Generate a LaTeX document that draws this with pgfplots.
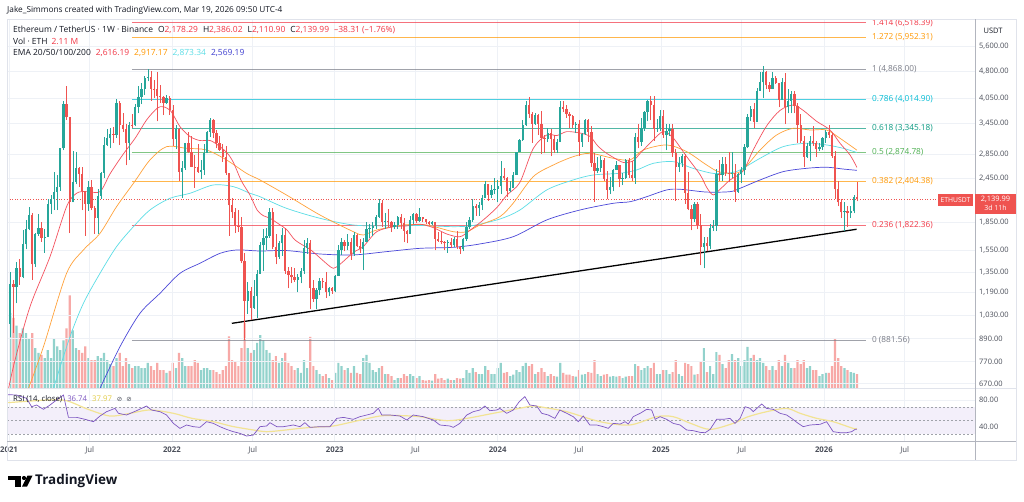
\documentclass[border=0pt]{standalone}
\usepackage{pgfplots}
\pgfplotsset{compat=1.18}
\usepackage{pgfplotstable}
\usepackage{fontspec}
\setmainfont{Open Sans}
\newfontfamily\dejavu{DejaVu Sans}
\newcommand{\fs}[1]{\fontsize{#1}{#1}\selectfont}

\definecolor{upc}{HTML}{26A69A}
\definecolor{dnc}{HTML}{EF5350}
\definecolor{upv}{HTML}{92D2CC}
\definecolor{dnv}{HTML}{F7A9A7}
\definecolor{ema20}{HTML}{F4515E}
\definecolor{ema50}{HTML}{FFA23A}
\definecolor{ema100}{HTML}{5CDDE6}
\definecolor{ema200}{HTML}{4A47D8}
\definecolor{rsic}{HTML}{7E57C2}
\definecolor{rsima}{HTML}{F2E394}
\definecolor{rsiband}{HTML}{F3EFFA}
\definecolor{rsiylab}{HTML}{E3CC45}
\definecolor{gridc}{HTML}{EEF1F6}
\definecolor{txt}{HTML}{131722}
\definecolor{axc}{HTML}{4A4E59}
\definecolor{framec}{HTML}{E0E3EB}
\definecolor{sepc}{HTML}{B2B5BE}
\definecolor{fibred}{HTML}{F23645}
\definecolor{fiborange}{HTML}{FF9800}
\definecolor{fibgray}{HTML}{787B86}
\definecolor{fibcyan}{HTML}{00BCD4}
\definecolor{fibteal}{HTML}{089981}
\definecolor{fibgreen}{HTML}{4CAF50}
\definecolor{emablue}{HTML}{3F3FD0}

% weekly candles, t = weeks since 4 Jan 2021; v = volume (M ETH)
\pgfplotstableread{
t o h l c v
0 975 1350 900 1255 11.3
2 1230 1440 1110 1390 9.4
4 1310 1760 1300 1610 9.0
5 1610 1875 1560 1780 8.3
6 1780 2040 1760 1935 7.5
8 1420 1730 1400 1720 6.0
9 1720 1945 1700 1790 5.3
11 1680 1770 1530 1690 4.5
12 1690 2150 1690 2080 5.7
13 2080 2200 1950 2140 4.5
14 2140 2550 2000 2240 7.5
15 2240 2500 2000 2310 6.3
16 2310 2950 2260 2950 5.7
17 2950 3990 2920 3900 7.2
20 2100 2910 2100 2390 8.7
21 2390 2890 2350 2600 6.0
25 2080 2400 1990 2320 4.5
28 1900 2290 1720 2190 4.8
29 2190 2550 2150 2530 4.5
30 2530 3170 2450 3010 5.3
31 3010 3330 3000 3150 4.2
32 3150 3350 2950 3240 3.6
34 3220 4030 3160 3940 4.5
38 3060 3480 2740 3420 3.6
40 3410 3900 3390 3840 3.3
41 3840 4380 3680 4080 3.3
42 4080 4460 3900 4290 3.0
43 4290 4660 4140 4610 3.0
44 4610 4868 4500 4630 3.8
50 3930 4140 3900 4050 2.3
53 3140 3410 2930 3330 3.0
55 2540 2720 2160 2600 4.5
56 2600 3060 2580 3050 3.3
61 2550 2750 2440 2580 2.7
62 2580 3030 2500 2860 3.0
63 2860 3300 2860 3280 3.0
64 3280 3580 3180 3520 2.7
76 1130 1270 1040 1200 6.0
78 1080 1290 1070 1160 5.7
79 1160 1370 1010 1340 6.8
80 1340 1640 1340 1600 8.0
81 1600 1780 1360 1680 7.2
82 1680 1790 1550 1700 5.7
83 1700 2030 1680 1980 5.3
86 1490 1650 1470 1620 3.8
87 1620 1790 1500 1710 4.5
92 1290 1340 1190 1310 3.0
93 1310 1390 1260 1360 2.3
94 1360 1660 1340 1570 4.2
95 1570 1680 1520 1620 3.0
98 1140 1220 1070 1210 2.7
99 1210 1300 1170 1280 2.1
102 1190 1230 1160 1220 1.5
104 1200 1330 1190 1320 2.3
105 1320 1600 1320 1550 3.8
106 1550 1680 1510 1630 3.3
108 1590 1720 1550 1630 3.0
110 1520 1740 1500 1710 3.3
113 1560 1680 1370 1640 4.5
114 1640 1850 1630 1780 5.0
115 1780 1830 1680 1790 3.8
116 1790 1850 1700 1810 2.7
117 1810 1940 1780 1920 2.4
118 1920 2140 1900 2090 3.0
120 1860 1960 1780 1870 2.1
123 1800 1850 1770 1820 1.2
124 1820 1930 1780 1910 1.5
128 1720 1930 1720 1880 2.1
129 1880 1960 1830 1950 1.8
131 1870 2030 1850 1910 1.8
135 1830 1870 1820 1850 1.1
140 1620 1660 1530 1640 1.4
142 1600 1690 1580 1670 1.2
145 1560 1680 1540 1670 1.5
146 1670 1860 1650 1800 2.7
147 1800 1910 1770 1880 2.3
148 1880 2140 1860 2050 3.0
150 2020 2110 1930 2060 2.1
151 2060 2200 2000 2160 2.1
152 2160 2400 2160 2350 3.3
154 2200 2340 2160 2270 2.1
155 2270 2450 2210 2290 2.1
156 2290 2420 2100 2330 3.0
157 2330 2720 2210 2480 3.8
160 2260 2400 2240 2300 1.8
161 2300 2540 2300 2500 2.0
162 2500 2890 2500 2880 2.7
163 2880 3130 2880 3120 2.4
164 3120 3520 3100 3420 3.3
165 3420 3980 3400 3870 3.8
168 3450 3680 3420 3650 2.1
172 3140 3360 3070 3260 1.8
175 2920 3130 2860 3070 1.7
176 3070 3970 3070 3830 3.8
181 3420 3490 3250 3440 1.7
183 3070 3250 2980 3240 2.0
184 3240 3560 3220 3530 2.1
188 2560 2800 2520 2610 2.1
189 2610 2820 2540 2750 1.8
192 2270 2470 2210 2320 1.7
193 2320 2590 2250 2580 1.8
194 2580 2730 2580 2650 1.7
196 2440 2520 2340 2450 1.5
197 2450 2760 2440 2750 1.7
200 2450 3250 2360 3180 3.6
202 3080 3570 3000 3360 2.7
203 3360 3740 3300 3710 3.0
204 3710 4000 3500 3990 3.3
207 3330 3560 3280 3360 2.1
208 3360 3750 3300 3630 2.1
210 3210 3450 2920 3300 2.7
211 3300 3450 3200 3330 2.1
214 2630 2800 2550 2690 2.1
215 2690 2850 2620 2820 1.8
219 1890 2100 1860 2080 2.0
222 1580 1690 1385 1620 6.0
224 1590 1830 1560 1790 3.3
225 1790 1880 1750 1810 2.1
226 1810 2590 1750 2510 5.4
228 2490 2790 2400 2680 3.6
231 2510 2880 2450 2530 5.1
233 2240 2530 2230 2510 4.5
234 2510 2620 2370 2580 3.3
235 2580 3040 2500 2970 4.2
236 2970 3670 2950 3590 6.2
237 3590 3860 3500 3780 4.5
239 3480 4330 3480 4250 4.2
240 4250 4790 4250 4470 4.5
241 4470 4956 4060 4780 3.8
244 4300 4770 4290 4600 3.3
247 4010 4590 4000 4480 3.3
249 3830 4290 3680 3980 3.8
250 3980 4250 3680 4160 3.0
255 2800 3050 2780 3000 3.0
256 3000 3200 2720 3100 3.3
259 2930 3060 2900 2970 1.8
260 2970 3180 2920 3150 2.1
261 3150 3310 3060 3280 2.3
267 1970 2100 1750 1990 3.0
269 1960 2050 1900 1985 2.4
270 1985 2200 1960 2178.29 2.3
}\ups

\pgfplotstableread{
t o h l c v
1 1255 1290 920 1230 10.6
3 1390 1470 1250 1310 8.3
7 1935 1960 1290 1420 8.3
10 1790 1860 1640 1680 5.0
18 3900 4370 3530 3590 9.0
19 3590 3590 1730 2100 14.0
22 2600 2620 2320 2510 5.7
23 2510 2620 2000 2250 5.3
24 2250 2250 1700 2080 6.3
26 2320 2410 2000 2030 4.2
27 2030 2050 1720 1900 4.2
33 3240 3380 3060 3220 3.3
35 3940 3970 3010 3410 5.3
36 3410 3680 3280 3330 3.3
37 3330 3450 2650 3060 4.5
39 3420 3660 3360 3410 3.0
45 4630 4800 3980 4300 3.3
46 4300 4550 4060 4290 2.7
47 4290 4780 3500 4110 3.8
48 4110 4400 3930 4070 2.7
49 4070 4110 3640 3930 2.7
51 4050 4100 3640 3760 2.6
52 3760 3880 3000 3140 3.8
54 3330 3350 2400 2540 5.3
57 3050 3280 2860 2880 3.3
58 2880 3200 2620 2630 3.3
59 2630 2830 2300 2620 4.2
60 2620 3040 2530 2550 3.8
65 3520 3550 3150 3260 2.7
66 3260 3310 2950 3060 2.4
67 3060 3190 2900 2920 2.1
68 2920 3030 2710 2790 2.7
69 2790 3000 2500 2520 3.3
70 2520 2520 1700 2060 7.8
71 2060 2160 1900 1970 4.2
72 1970 2020 1730 1810 3.9
73 1810 2000 1740 1800 3.3
74 1800 1920 1430 1450 6.0
75 1450 1530 881.56 1130 9.8
77 1200 1230 1000 1080 5.3
84 1980 2020 1560 1580 4.2
85 1580 1720 1420 1490 4.8
88 1710 1790 1340 1360 5.3
89 1360 1400 1220 1330 3.8
90 1330 1400 1260 1310 3.3
91 1310 1390 1270 1290 2.7
96 1620 1660 1070 1220 7.7
97 1220 1290 1120 1140 3.3
100 1280 1300 1220 1270 1.8
101 1270 1350 1150 1190 2.1
103 1220 1230 1180 1200 1.2
107 1630 1660 1540 1590 2.7
109 1630 1680 1460 1520 2.3
111 1710 1720 1580 1590 2.3
112 1590 1670 1530 1560 2.1
119 2090 2130 1800 1860 3.3
121 1870 2010 1800 1850 2.1
122 1850 1870 1740 1800 1.8
125 1910 1950 1770 1840 1.5
126 1840 1900 1630 1750 2.1
127 1750 1760 1620 1720 1.8
130 1950 1960 1840 1870 1.5
132 1910 1920 1850 1890 1.2
133 1890 1890 1830 1860 1.1
134 1860 1870 1820 1830 1.2
136 1850 1860 1550 1670 2.1
137 1670 1740 1640 1650 1.4
138 1650 1740 1610 1630 1.5
139 1630 1650 1550 1620 1.2
141 1640 1680 1570 1600 1.2
143 1670 1750 1560 1580 1.5
144 1580 1590 1520 1560 1.4
149 2050 2080 1930 2020 2.4
153 2350 2360 2120 2200 2.7
158 2480 2600 2410 2450 2.3
159 2450 2460 2170 2260 2.4
166 3870 4090 3570 3660 3.3
167 3660 3720 3060 3450 3.6
169 3650 3660 3210 3450 2.4
170 3450 3730 2850 3150 3.0
171 3150 3220 2860 3140 2.4
173 3260 3340 2810 3140 2.1
174 3140 3220 2860 2920 1.8
177 3830 3980 3700 3780 2.3
178 3780 3890 3580 3660 2.0
179 3660 3710 3360 3620 2.0
180 3620 3640 3360 3420 1.8
182 3440 3520 2810 3070 2.7
185 3530 3560 3080 3270 2.4
186 3270 3400 2630 2690 2.3
187 2690 2860 2110 2560 4.2
190 2750 2770 2400 2430 2.0
191 2430 2560 2150 2270 2.1
195 2650 2650 2310 2440 1.8
198 2750 2770 2450 2500 1.8
199 2500 2720 2400 2450 1.8
201 3180 3450 2950 3080 3.3
205 3990 4100 3520 3890 3.0
206 3890 4110 3100 3330 3.8
209 3630 3750 3160 3210 2.7
212 3330 3440 2800 2870 2.4
213 2870 2930 2120 2630 4.2
216 2820 2850 2080 2220 3.8
217 2220 2550 2000 2010 3.6
218 2010 2070 1760 1890 3.3
220 2080 2100 1770 1820 2.1
221 1820 1950 1410 1580 3.9
223 1620 1690 1540 1590 2.4
227 2510 2740 2400 2490 5.0
229 2680 2790 2480 2530 3.0
230 2530 2880 2380 2510 4.2
232 2530 2680 2110 2240 4.2
238 3780 3940 3360 3480 5.0
242 4780 4800 4300 4390 3.3
243 4390 4490 4210 4300 2.7
245 4600 4650 4440 4450 2.7
246 4450 4450 3820 4010 4.2
248 4480 4760 3440 3830 5.0
251 4160 4250 3680 3850 3.0
252 3850 3920 3050 3420 4.2
253 3420 3660 3050 3100 3.6
254 3100 3200 2620 2800 4.2
257 3100 3400 3000 3050 2.7
258 3050 3100 2800 2930 2.7
262 3280 3410 3150 3210 2.3
263 3210 3260 2780 2820 3.3
264 2820 2900 2150 2280 7.5
265 2280 2400 2050 2100 4.5
266 2100 2150 1900 1970 3.3
268 1990 2050 1800 1960 2.7
271 2178.29 2386.02 2110.90 2139.99 2.11
}\dns

\pgfplotsset{
  tv/.style={scale only axis, width=968bp, xmin=-1.07, xmax=308.8, anchor=south west,
    axis line style={draw=none}, major tick length=0pt,
    xtick={-0.43,25.43,51.71,77.57,103.86,129.71,156,182,208.29,234.14,260.43,286.29},
    grid=major, grid style={draw=gridc, line width=0.6bp},
    yticklabel pos=right,
    yticklabel style={font=\fs{7.5}, text=axc, anchor=west, xshift=3bp, inner sep=1bp}},
  wick/.style={draw=none, mark=none, forget plot,
    error bars/.cd, y dir=plus, y explicit, error mark=none,
    error bar style={draw=#1, solid, line width=0.55bp}},
  body/.style={draw=none, mark=none, forget plot,
    error bars/.cd, y dir=plus, y explicit, error mark=none,
    error bar style={draw=#1, solid, line width=2.3bp}},
  fib/.style={#1, draw opacity=0.7, line width=0.55bp, forget plot}
}
\tikzset{fibl/.style={anchor=west, inner sep=0pt, text=#1, font=\fs{8.3}}}

\begin{document}
\begin{tikzpicture}
\path[use as bounding box, fill=white] (0,0) rectangle (1024bp,502bp);

% volume
\begin{axis}[tv, at={(7bp,114bp)}, height=369bp, ymin=0, ymax=55.7, hide axis, grid=none]
\addplot[ybar, bar width=2.2bp, bar shift=0pt, fill=upv, draw=none] table[x=t, y=v] {\ups};
\addplot[ybar, bar width=2.2bp, bar shift=0pt, fill=dnv, draw=none] table[x=t, y=v] {\dns};
\end{axis}

% price
\begin{axis}[tv, at={(7bp,114bp)}, height=369bp, ymode=log, ymin=651.3, ymax=6672,
  xticklabels={},
  ytick={670,770,890,1030,1190,1350,1550,1850,2450,2850,3450,4050,4800,5600},
  yticklabels={670.00,770.00,890.00,{1,030.00},{1,190.00},{1,350.00},{1,550.00},{1,850.00},{2,450.00},{2,850.00},{3,450.00},{4,050.00},{4,800.00},{5,600.00}}]

% fibonacci levels
\addplot[fib=fibred] coordinates {(38.9,6518.39) (273.9,6518.39)};
\addplot[fib=fiborange] coordinates {(38.9,5952.31) (273.9,5952.31)};
\addplot[fib=fibgray] coordinates {(38.9,4868) (273.9,4868)};
\addplot[fib=fibcyan] coordinates {(38.9,4014.90) (273.9,4014.90)};
\addplot[fib=fibteal] coordinates {(38.9,3345.18) (273.9,3345.18)};
\addplot[fib=fibgreen] coordinates {(38.9,2874.78) (273.9,2874.78)};
\addplot[fib=fiborange] coordinates {(38.9,2404.38) (273.9,2404.38)};
\addplot[fib=fibred] coordinates {(38.9,1822.36) (273.9,1822.36)};
\addplot[fib=fibgray] coordinates {(38.9,881.56) (273.9,881.56)};

\node[fibl=fibred] at (axis cs:275.8,6518.39) {1.414 (6,518.39)};
\node[fibl=fiborange] at (axis cs:275.8,5952.31) {1.272 (5,952.31)};
\node[fibl=fibgray] at (axis cs:275.8,4868) {1 (4,868.00)};
\node[fibl=fibcyan] at (axis cs:275.8,4014.90) {0.786 (4,014.90)};
\node[fibl=fibteal] at (axis cs:275.8,3345.18) {0.618 (3,345.18)};
\node[fibl=fibgreen] at (axis cs:275.8,2874.78) {0.5 (2,874.78)};
\node[fibl=fiborange] at (axis cs:275.8,2404.38) {0.382 (2,404.38)};
\node[fibl=fibred] at (axis cs:275.8,1822.36) {0.236 (1,822.36)};
\node[fibl=fibgray] at (axis cs:275.8,881.56) {0 (881.56)};

% last price line
\addplot[dnc, dotted, line width=0.6bp, forget plot] coordinates {(-1.07,2139.99) (297,2139.99)};

% EMAs
\addplot[ema200, line width=0.7bp, smooth] coordinates {
(28.7,650) (35.1,845) (41.5,1043) (47.9,1183) (54.3,1342) (60.7,1430) (67.1,1522) (72.5,1555)
(79.9,1545) (88.4,1549) (99.1,1516) (109.8,1507) (120.5,1539) (131.1,1571) (141.8,1581)
(150.3,1615) (161,1691) (171.7,1879) (182.4,2001) (193,2087) (198.4,2108) (203.7,2176)
(210.1,2270) (214.4,2280) (222.9,2240) (230.4,2246) (233.6,2294) (240,2418) (247.4,2548)
(254.9,2602) (261.3,2620) (266.6,2590) (271,2569.19)};
\addplot[ema100, line width=0.7bp, smooth] coordinates {
(13.8,650) (19.1,900) (23.4,1111) (28.7,1342) (34,1588) (39.4,1801) (44.7,2001) (51.1,2154)
(57.5,2223) (65,2343) (71.4,2318) (76.7,2223) (79.9,2176) (88.4,2022) (99.1,1899) (109.8,1820)
(120.5,1810) (131.1,1815) (141.8,1801) (148.2,1815) (156.7,1890) (163.1,2000) (171.7,2270)
(180.2,2418) (186.6,2495) (195.2,2522) (200.5,2575) (205.8,2685) (212.2,2714) (218.6,2600)
(225,2520) (230.4,2530) (233.6,2575) (240,2772) (247.4,2983) (254.9,3047) (261.3,3015)
(266.6,2952) (271,2873.34)};
\addplot[ema50, line width=0.7bp, smooth] coordinates {
(5.8,650) (10.6,845) (18,1342) (23.4,1555) (28.7,1727) (34,2043) (39.4,2367) (44.7,2743)
(50,2983) (56.4,2952) (62.8,2921) (69.2,2743) (75.6,2521) (79.9,2418) (88.4,2199) (99.1,1939)
(109.8,1745) (113,1709) (117.3,1764) (125.8,1820) (133.3,1820) (141.8,1745) (146.1,1745)
(150.3,1820) (156.7,1919) (161,2090) (167.4,2469) (173.8,2657) (180.2,2801) (185.6,2860)
(193,2772) (198.4,2743) (202.6,2921) (210.1,3015) (216.5,2891) (222.9,2657) (227.2,2540)
(233.6,2546) (240,2921) (245.3,3211) (250.6,3349) (256,3313) (261.3,3313) (265.6,3144)
(271,2917.17)};
\addplot[ema20, line width=0.7bp, smooth] coordinates {
(-1.07,620) (1.5,777) (6.3,1088) (12.7,1491) (18,2043) (21.2,2223) (24.5,2250) (28.7,2246)
(32,2520) (36.2,2850) (40,3150) (43.6,3529) (47,3800) (49,3838) (51.5,3720) (54.3,3384)
(57.5,3180) (60.7,3100) (64,3100) (67.1,2983) (69.5,2860) (71.4,2700) (74,2400) (76.7,2200)
(79,2000) (81,1930) (83.1,1900) (86,1830) (88.4,1770) (91,1660) (93.8,1600) (96,1560)
(99.1,1480) (101.5,1420) (103.4,1385) (105.5,1420) (109.8,1530) (113,1590) (117.3,1745)
(122.6,1800) (126.9,1810) (131.1,1830) (135.4,1790) (139.7,1720) (143.9,1690) (147.1,1760)
(151.4,1879) (155.7,2030) (159,2200) (163.1,2380) (167.4,2950) (171.7,3211) (175,3200)
(178.1,3279) (182.4,3250) (185.6,3180) (188,3000) (190.9,2860) (196.2,2700) (199.4,2730)
(201.6,2860) (205.8,3111) (209,3280) (212.2,3150) (216.5,2801) (220.8,2500) (223,2300)
(225,2200) (227.2,2280) (230.4,2418) (234.6,2560) (237.8,2921) (242.1,3400) (246.4,3750)
(250.6,3879) (253.8,3750) (258.1,3500) (262.4,3313) (265.6,3047) (268.8,2830) (271,2616.19)};

% trend line
\addplot[black, line width=1.3bp, forget plot] coordinates {(70.9,979) (270.9,1772)};

% candles
\addplot[wick=upc] table[x=t, y=l, y error plus expr=\thisrow{h}-\thisrow{l}] {\ups};
\addplot[wick=dnc] table[x=t, y=l, y error plus expr=\thisrow{h}-\thisrow{l}] {\dns};
\addplot[body=upc] table[x=t, y=o, y error plus expr=\thisrow{c}-\thisrow{o}] {\ups};
\addplot[body=dnc] table[x=t, y=c, y error plus expr=\thisrow{o}-\thisrow{c}] {\dns};
\end{axis}

% RSI
\begin{axis}[tv, at={(7bp,61bp)}, height=52bp, ymin=19.3, ymax=96.3,
  ytick={40,80}, yticklabels={40.00,80.00},
  xticklabels={\textbf{2021},Jul,\textbf{2022},Jul,\textbf{2023},Jul,\textbf{2024},Jul,\textbf{2025},Jul,\textbf{2026},Jul},
  xticklabel style={font=\fs{7.8}, text=axc, yshift=-2.5bp}]
\fill[rsiband] (axis cs:-1.07,30) rectangle (axis cs:308.8,70);
\draw[fibgray!70, dash pattern=on 2bp off 2bp, line width=0.5bp] (axis cs:-1.07,70) -- (axis cs:308.8,70);
\draw[fibgray!70, dash pattern=on 2bp off 2bp, line width=0.5bp] (axis cs:-1.07,50) -- (axis cs:308.8,50);
\draw[fibgray!70, dash pattern=on 2bp off 2bp, line width=0.5bp] (axis cs:-1.07,30) -- (axis cs:308.8,30);
\addplot[rsima, line width=1.2bp, smooth] coordinates {
(-1.07,76) (5,78) (12,80) (18,79) (25,66) (31.9,56.3) (38,60) (44.7,65.2) (52.2,60.3) (58,53)
(65,47.9) (71,41) (77.8,35.6) (82,33.1) (87,35) (92.7,38) (98,40) (103.4,41.5) (109.8,47.9)
(118.3,56.3) (124,57) (131.1,55.3) (139.7,49.4) (146.1,52.8) (154.6,60.3) (162.9,67.6)
(167.4,71.1) (172,68) (178.1,62.7) (188.8,47.9) (198.3,43) (206.9,55.3) (212.2,55.3) (218,45)
(224,36.5) (231.4,45.4) (236,55) (242.1,62.7) (248.5,67.6) (252.8,60.3) (258,53) (263.4,47.9)
(269.8,38) (271,37.97)};
\addplot[rsic, line width=0.7bp] coordinates {
(-1.07,88) (2,87.4) (5.2,82.5) (6.8,70.1) (8.4,72.6) (10.6,66.2) (12.7,72.6) (14.8,80) (17,87.4)
(18.6,54.3) (21.2,54.3) (23.9,51.4) (26.6,47.9) (28.7,56.3) (30.8,62.7) (33.5,67.6) (34.6,60.3)
(37.2,57.8) (40.4,64.2) (43.6,71.1) (45.2,65.2) (47.9,62.7) (50,57.8) (52.2,45.4) (54.3,38)
(56.4,43) (58.6,40.5) (60.7,39.5) (62.8,47.9) (65,45.4) (67.1,40.5) (69.2,36.5) (71.4,33.1)
(73.5,30.6) (75.6,26.7) (77.8,28.1) (79.9,40.5) (82,41.5) (83.1,46.4) (85.3,40.5) (87.4,40.5)
(90.6,43) (92.7,40.5) (94.3,46.4) (95.9,39.5) (99.1,40.5) (102.3,40.5) (104.5,52.8) (106.6,54.3)
(109.8,51.4) (111.9,55.3) (114.1,57.8) (116.2,60.3) (117.8,67.6) (118.9,57.8) (121.5,57.8)
(124.7,56.3) (126.9,50.4) (129,57.8) (132.2,55.3) (135.4,50.4) (137.5,43) (140.7,41.5)
(141.8,39.5) (143.9,45.4) (146.1,57.8) (148.2,62.7) (150.3,65.2) (151.9,71.1) (153.5,64.2)
(155.7,65.2) (156.7,67.5) (158.9,60.3) (161,65.2) (162.9,77.5) (164.7,85) (166.3,72.6)
(168.5,71.1) (170.1,60.3) (172.2,57.8) (174.3,52.8) (175.9,65.2) (178.1,60.3) (180.2,55.3)
(181.8,47.9) (183.4,56.3) (185.5,43) (187.7,43) (189.8,40.5) (191.4,38) (193,45.4) (195.2,44.4)
(196.8,47.9) (197.8,44.4) (199.4,55.3) (201.6,60.3) (203.7,66.2) (205.3,65.2) (206.4,51.4)
(208,55.3) (210.1,51.4) (212.2,45.4) (214.4,43) (216.5,35.6) (218.6,34.6) (220.8,32.1)
(222.4,31.6) (224,36.5) (226.1,51.4) (228.2,51.4) (230.4,52.8) (232,45.4) (233.6,52.8)
(235.2,70.1) (236.8,67.6) (237.8,62.7) (240.5,74.1) (242.1,67.6) (244.2,66.2) (246.4,60.3)
(248.5,57.8) (250.1,52.8) (252.2,45.4) (253.8,40.5) (256,43) (259.2,44) (261.3,47.9) (263.4,33.1)
(265.6,31.6) (267.7,31.6) (269.3,33.1) (270.4,36.5) (271,36.74)};
\end{axis}

% frame and separators
\draw[framec, line width=0.6bp] (7bp,42bp) rectangle (1016bp,483bp);
\draw[framec, line width=0.8bp] (7bp,113.5bp) -- (1016bp,113.5bp);
\draw[sepc, line width=0.8bp] (975bp,42bp) -- (975bp,483bp);
\draw[sepc, line width=0.8bp] (7bp,61bp) -- (1016bp,61bp);

% price labels
\fill[dnc] (938bp,296bp) rectangle (973bp,308bp);
\node[white, font=\fs{6.8}, inner sep=0pt] at (955.5bp,302bp) {ETHUSDT};
\fill[dnc] (975bp,288bp) rectangle (1016bp,308bp);
\node[white, font=\fs{7.5}, inner sep=0pt] at (995.5bp,302.5bp) {2,139.99};
\node[white, font=\fs{7}, inner sep=0pt] at (995.5bp,294bp) {3d 11h};
\node[font=\fs{7.5}, text=txt, inner sep=0pt] at (993bp,471bp) {USDT};

% header
\node[anchor=west, inner sep=0pt, font=\fs{8.3}, text=txt] at (7bp,492bp)
  {Jake\_Simmons created with TradingView.com, Mar 19, 2026 09:50 UTC-4};
\node[anchor=west, inner sep=0pt, font=\fs{8.5}, text=txt] at (13bp,472bp)
  {Ethereum / TetherUS · 1W · Binance\hspace{5bp}O\textcolor{fibred}{2,178.29}\hspace{5bp}H\textcolor{fibred}{2,386.02}\hspace{5bp}L\textcolor{fibred}{2,110.90}\hspace{5bp}C\textcolor{fibred}{2,139.99}\hspace{5bp}\textcolor{fibred}{–38.31 (–1.76\%)}};
\node[anchor=west, inner sep=0pt, font=\fs{8.5}, text=txt] at (13bp,460.3bp)
  {Vol · ETH\hspace{4bp}\textcolor{fibred}{2.11 M}};
\node[anchor=west, inner sep=0pt, font=\fs{8.5}, text=txt] at (13bp,448.7bp)
  {EMA 20/50/100/200\hspace{5bp}\textcolor{fibred}{2,616.19}\hspace{5bp}\textcolor{fiborange}{2,917.17}\hspace{5bp}\textcolor{ema100}{2,873.34}\hspace{5bp}\textcolor{emablue}{2,569.19}};
\node[anchor=west, inner sep=0pt, font=\fs{7.8}, text=txt] at (13bp,103bp)
  {RSI (14, close)\hspace{5bp}\textcolor{rsic}{36.74}\hspace{5bp}\textcolor{rsiylab}{37.97}\hspace{5bp}{\dejavu\fs{6.5}\textcolor{axc}{⊘\hspace{4bp}⊘}}};

% TradingView logo
\fill[black] (8.3bp,22bp) rectangle (20.7bp,26.3bp);
\fill[black] (15bp,15.3bp) rectangle (20.7bp,26.3bp);
\fill[black] (24bp,24bp) circle (2.1bp);
\fill[black] (27.5bp,26.3bp) -- (32.5bp,26.3bp) -- (27bp,15.3bp) -- (22bp,15.3bp) -- cycle;
\node[anchor=west, inner sep=0pt, font=\bfseries\fs{13.5}, text=txt] at (35bp,21bp) {TradingView};
\end{tikzpicture}
\end{document}
